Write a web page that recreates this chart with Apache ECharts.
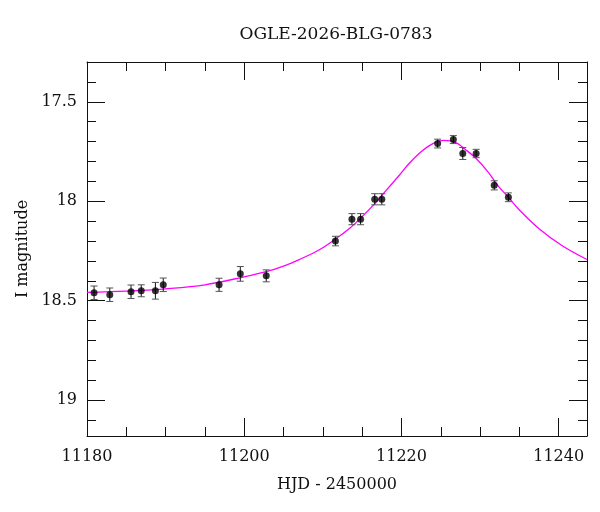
<!DOCTYPE html>
<html>
<head>
<meta charset="utf-8">
<script src="https://cdn.jsdelivr.net/npm/echarts@6/dist/echarts.min.js"></script>
<style>
  html, body { margin: 0; padding: 0; background: #fff; }
  #main { width: 600px; height: 512px; }
</style>
</head>
<body>
<div id="main"></div>
<script>
// observed photometry (HJD - 2450000, I mag, error)
var obsHjd = [11180.9, 11182.9, 11185.6, 11186.9, 11188.7, 11189.7, 11196.8, 11199.5, 11202.8,
              11211.6, 11213.7, 11214.8, 11216.6, 11217.5, 11224.6, 11226.6, 11227.8, 11229.5, 11231.8, 11233.6];
var obsMag = [18.46, 18.47, 18.455, 18.45, 18.45, 18.42, 18.42, 18.365, 18.375,
              18.20, 18.09, 18.09, 17.99, 17.99, 17.71, 17.69, 17.76, 17.76, 17.92, 17.98];
var obsErr = [0.034, 0.034, 0.034, 0.03, 0.042, 0.034, 0.033, 0.037, 0.03,
              0.024, 0.028, 0.028, 0.028, 0.028, 0.022, 0.02, 0.03, 0.021, 0.023, 0.022];

// model curve
var fitHjd = [11180, 11185, 11190, 11195, 11200, 11202.8, 11205, 11207, 11209.5, 11211.6, 11213.5, 11214.8,
              11216.6, 11218, 11219.75, 11221, 11222.5, 11224, 11225.4, 11226.8, 11228.2, 11229.5, 11231,
              11232.4, 11233.6, 11235, 11237.5, 11240.5, 11243.6];
var fitMag = [18.458, 18.452, 18.440, 18.420, 18.380, 18.354, 18.326, 18.293, 18.245, 18.190, 18.133, 18.085,
              18.012, 17.948, 17.868, 17.809, 17.751, 17.710, 17.694, 17.703, 17.742, 17.785, 17.852,
              17.928, 17.980, 18.044, 18.138, 18.225, 18.293];

var xMin = 11180, xMax = 11243.6;
var yMin = 17.3, yMax = 19.18;
var yMajorStart = 17.5;

var chartTitle = 'OGLE-2026-BLG-0783';
var xName = 'HJD - 2450000';
var yName = 'I magnitude';

var FONT = 'DejaVu Serif';
var INK = '#111';

var gLeft = 87, gTop = 62, gW = 500, gH = 374;
// second grid only carries the long (major) y ticks, starting at 17.5
var shift = (yMajorStart - yMin) / (yMax - yMin) * gH;

var points = [], errs = [], fit = [];
for (var i = 0; i < obsHjd.length; i++) {
  points.push([obsHjd[i], obsMag[i]]);
  errs.push([obsHjd[i], obsMag[i], obsErr[i]]);
}
for (var j = 0; j < fitHjd.length; j++) fit.push([fitHjd[j], fitMag[j]]);

var myChart = echarts.init(document.getElementById('main'));

function xAx(pos, labels) {
  return {
    type: 'value', gridIndex: 0, position: pos, min: xMin, max: xMax, interval: 20,
    name: labels ? xName : '', nameLocation: 'middle', nameGap: 41,
    nameTextStyle: { fontFamily: FONT, fontSize: 16, color: INK },
    axisLine: { show: true, onZero: false, lineStyle: { color: INK, width: 1 } },
    axisTick: { show: true, inside: true, length: 18, lineStyle: { color: INK } },
    minorTick: { show: true, splitNumber: 4, length: 9, lineStyle: { color: INK } },
    axisLabel: {
      show: labels, showMaxLabel: false, margin: 13, fontFamily: FONT, fontSize: 16, color: INK,
      formatter: function (v) { return String(v); }
    },
    splitLine: { show: false }
  };
}

function yAx(pos, labels) {
  return {
    type: 'value', gridIndex: 0, position: pos, inverse: true, min: yMin, max: yMax, interval: 0.1,
    name: labels ? yName : '', nameLocation: 'middle', nameGap: 56, nameRotate: 90,
    nameTextStyle: { fontFamily: FONT, fontSize: 16, color: INK },
    axisLine: { show: true, onZero: false, lineStyle: { color: INK, width: 1 } },
    axisTick: { show: true, inside: true, length: 9, lineStyle: { color: INK } },
    axisLabel: {
      show: labels, margin: 10, fontFamily: FONT, fontSize: 16, color: INK,
      formatter: function (v) {
        var h = v * 2;
        if (Math.abs(h - Math.round(h)) < 1e-6 && v < yMax - 1e-6) return String(Math.round(h) / 2);
        return '';
      }
    },
    splitLine: { show: false }
  };
}

function yMajor(pos) {
  return {
    type: 'value', gridIndex: 1, position: pos, inverse: true, min: yMajorStart, max: yMax, interval: 0.5,
    axisLine: { show: false },
    axisTick: { show: true, inside: true, length: 18, lineStyle: { color: INK } },
    axisLabel: { show: false },
    splitLine: { show: false }
  };
}

var option = {
  backgroundColor: '#fff',
  animation: false,
  title: {
    text: chartTitle, left: gLeft + gW / 2 - 6, top: 21, textAlign: 'center',
    textStyle: { fontFamily: FONT, fontSize: 17, fontWeight: 'normal', color: INK }
  },
  grid: [
    { left: gLeft, top: gTop, width: gW, height: gH, outerBoundsMode: 'none' },
    { left: gLeft, top: gTop + shift, width: gW, height: gH - shift, outerBoundsMode: 'none' }
  ],
  xAxis: [
    xAx('bottom', true),
    xAx('top', false),
    { type: 'value', gridIndex: 1, min: xMin, max: xMax, show: false }
  ],
  yAxis: [
    yAx('left', true),
    yAx('right', false),
    yMajor('left'),
    yMajor('right')
  ],
  series: [
    {
      type: 'line', xAxisIndex: 0, yAxisIndex: 0, data: fit, smooth: 0.35,
      showSymbol: false, clip: true,
      lineStyle: { color: '#ff00ff', width: 1.3 }, z: 2
    },
    {
      type: 'custom', xAxisIndex: 0, yAxisIndex: 0, data: errs, z: 3,
      renderItem: function (params, api) {
        var x = api.value(0), y = api.value(1), e = api.value(2);
        var top = api.coord([x, y - e]);
        var bot = api.coord([x, y + e]);
        var cw = 3.5;
        var st = { stroke: INK, lineWidth: 1 };
        var cap = { stroke: '#555', lineWidth: 1 };
        return {
          type: 'group',
          children: [
            { type: 'line', shape: { x1: top[0], y1: top[1], x2: bot[0], y2: bot[1] }, style: st },
            { type: 'line', shape: { x1: top[0] - cw, y1: top[1], x2: top[0] + cw, y2: top[1] }, style: cap },
            { type: 'line', shape: { x1: bot[0] - cw, y1: bot[1], x2: bot[0] + cw, y2: bot[1] }, style: cap }
          ]
        };
      }
    },
    {
      type: 'scatter', xAxisIndex: 0, yAxisIndex: 0, data: points, symbol: 'circle',
      symbolSize: 7, itemStyle: { color: '#000' }, z: 4
    }
  ]
};
myChart.setOption(option);
</script>
</body>
</html>
